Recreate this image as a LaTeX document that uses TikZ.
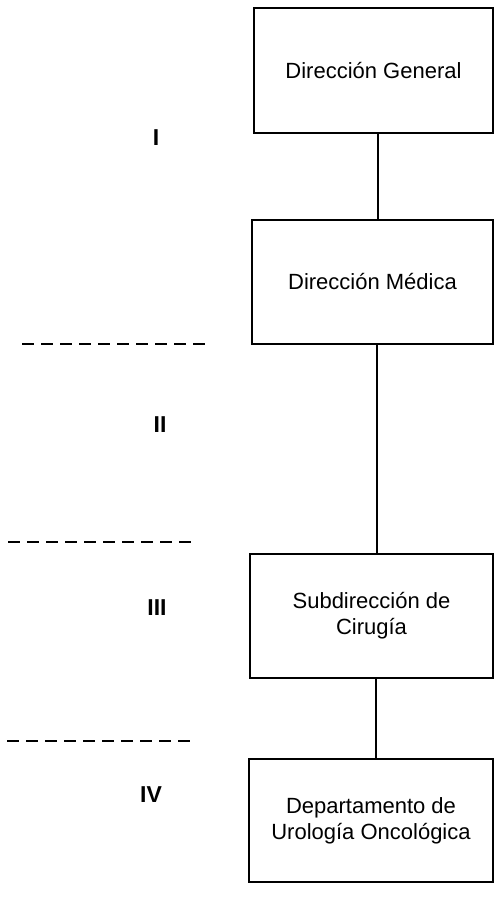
\documentclass[tikz,border=0pt]{standalone}
\usepackage{fontspec}
\setmainfont{Liberation Sans}
\begin{document}
\begin{tikzpicture}[x=1pt,y=-1pt,
  orgbox/.style={draw,line width=1.4pt,inner sep=0pt,align=center,
    font=\fontsize{22}{26}\selectfont},
  link/.style={line width=2pt},
  divider/.style={line width=1.3pt,dash pattern=on 12pt off 7pt},
  levellabel/.style={font=\fontsize{23}{26}\selectfont\bfseries,inner sep=0pt}]
\useasboundingbox (0,0) rectangle (495,909);
\node[orgbox,minimum width=239pt,minimum height=125pt] (b1) at (373.5,70.5) {Dirección General};
\node[orgbox,minimum width=241pt,minimum height=124pt] (b2) at (372.5,282) {Dirección Médica};
\node[orgbox,minimum width=243pt,minimum height=124pt] (b3) at (371.5,616) {Subdirección de\\Cirugía};
\node[orgbox,minimum width=244pt,minimum height=123pt] (b4) at (371,820.5) {Departamento de\\Urología Oncológica};
\draw[link] ([xshift=4.5pt]b1.south) -- ([xshift=5.5pt]b2.north);
\draw[link] ([xshift=4.5pt]b2.south) -- ([xshift=5.5pt]b3.north);
\draw[link] ([xshift=4.5pt]b3.south) -- ([xshift=5pt]b4.north);
\coordinate (d1a) at (22,344); \coordinate (d1b) at (210,344);
\coordinate (d2a) at (8,542); \coordinate (d2b) at (197,542);
\coordinate (d3a) at (7,741); \coordinate (d3b) at (195,741);
\draw[divider] (d1a) -- (d1b);
\draw[divider] (d2a) -- (d2b);
\draw[divider] (d3a) -- (d3b);
\node[levellabel] (l1) at (156,138) {I};
\node[levellabel] (l2) at (160,425) {II};
\node[levellabel] (l3) at (157,608) {III};
\node[levellabel] (l4) at (151,795) {IV};
\end{tikzpicture}
\end{document}
